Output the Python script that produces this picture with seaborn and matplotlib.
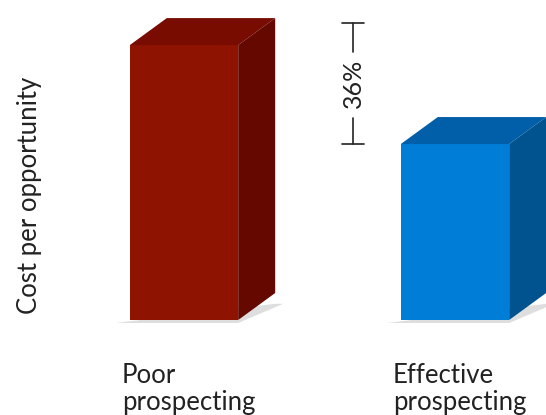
import matplotlib
matplotlib.use("Agg")
import matplotlib.pyplot as plt
import seaborn as sns
import pandas as pd
from matplotlib.patches import Polygon

categories = ["Poor\nprospecting", "Effective\nprospecting"]
values = [100, 64]
front_colors = ["#8E1300", "#007DD6"]
top_colors = ["#780C00", "#005FA8"]
side_colors = ["#640800", "#00538F"]
annotation = "36%"
ylabel = "Cost per opportunity"

df = pd.DataFrame({"category": categories, "value": values})

sns.set_theme(style="white")
plt.rcParams["font.family"] = ["Lato", "DejaVu Sans"]

W, H = 546, 415
fig = plt.figure(figsize=(W / 100, H / 100), dpi=100)
# axes: pixels x 100..546, y 0..320 (from top)
ax = fig.add_axes([100 / W, (H - 320) / H, 446 / W, 320 / H])
sns.barplot(data=df, x="category", y="value", hue="category",
            palette=front_colors, width=0.4, legend=False, ax=ax,
            saturation=1, linewidth=0, zorder=3)
ax.set_xlim(-0.31, 1.336)
ax.set_ylim(0, 116.4)
ax.axis("off")

fig.canvas.draw()
px_x = ax.transData.transform((1, 0))[0] - ax.transData.transform((0, 0))[0]
px_y = ax.transData.transform((0, 1))[1] - ax.transData.transform((0, 0))[1]
dx = 37 / px_x
dy = 27 / px_y

bars = list(ax.patches)
for i, p in enumerate(bars):
    x0, w, h = p.get_x(), p.get_width(), p.get_height()
    x1 = x0 + w
    sh = Polygon([(x0 - 14 / px_x, -3 / px_y), (x1, -3 / px_y),
                  (x1 + dx + 8 / px_x, dy * 0.6), (x1 + dx, dy * 0.6)],
                 closed=True, facecolor="#c8c8c8", edgecolor="none",
                 alpha=0.6, zorder=1, clip_on=False)
    ax.add_patch(sh)
    top = Polygon([(x0, h), (x1, h), (x1 + dx, h + dy), (x0 + dx, h + dy)],
                  closed=True, facecolor=top_colors[i], edgecolor="none",
                  zorder=3, clip_on=False)
    side = Polygon([(x1, 0), (x1 + dx, dy), (x1 + dx, h + dy), (x1, h)],
                   closed=True, facecolor=side_colors[i], edgecolor="none",
                   zorder=3, clip_on=False)
    ax.add_patch(top)
    ax.add_patch(side)

# bracket annotation
bx = 0.625
y_top = values[0] + dy * 0.8
y_bot = values[1]
cap = 11 / px_x
kw = dict(color="#222222", lw=1.2, zorder=4, clip_on=False)
ax.plot([bx - cap, bx + cap], [y_top, y_top], **kw)
ax.plot([bx - cap, bx + cap], [y_bot, y_bot], **kw)
mid = (y_top + y_bot) / 2
ax.plot([bx, bx], [y_top, mid + 32 / px_y], **kw)
ax.plot([bx, bx], [mid - 34 / px_y, y_bot], **kw)
ax.text(bx, mid, annotation, rotation=90, ha="center", va="center",
        fontsize=18, color="#222222")

# category labels
for i, lab in enumerate(categories):
    x0 = bars[i].get_x() - 8 / px_x
    ax.text(x0, -43 / px_y, lab, ha="left", va="top", fontsize=18.5,
            color="#222222", linespacing=1.08, clip_on=False)

fig.text(30 / W, 1 - 195 / H, ylabel, rotation=90, ha="center", va="center",
         fontsize=18.5, color="#222222")

fig.savefig("out.png", dpi=100, facecolor="white")
